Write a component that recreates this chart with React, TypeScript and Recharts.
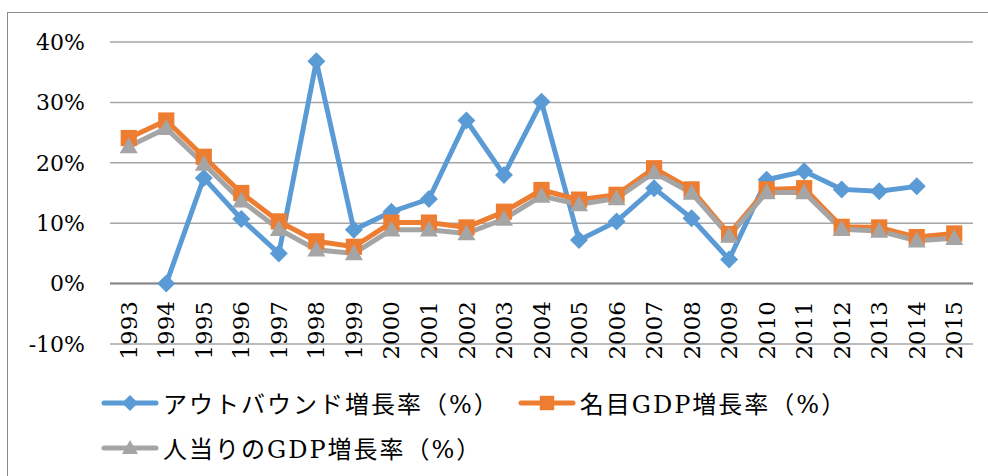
import React from 'react';
import { LineChart, Line, XAxis, YAxis, CartesianGrid, Legend, ReferenceLine } from 'recharts';

const years = ['1993', '1994', '1995', '1996', '1997', '1998', '1999', '2000', '2001', '2002', '2003', '2004',
  '2005', '2006', '2007', '2008', '2009', '2010', '2011', '2012', '2013', '2014', '2015'];

const outbound = [null, 0, 17.5, 10.7, 5.0, 36.8, 8.9, 11.9, 14.0, 27.0, 18.0, 30.1,
  7.2, 10.3, 15.8, 10.8, 4.0, 17.2, 18.6, 15.6, 15.3, 16.1, null];

const nominalGdp = [24.1, 27.0, 21.0, 15.0, 10.3, 7.0, 6.1, 10.1, 10.1, 9.3, 11.9, 15.5,
  13.9, 14.7, 19.1, 15.6, 8.2, 15.6, 15.8, 9.4, 9.3, 7.7, 8.3];

const perCapitaGdp = [22.7, 25.7, 19.8, 13.7, 9.0, 5.6, 5.0, 8.9, 8.9, 8.3, 10.7, 14.5,
  13.1, 14.1, 18.4, 15.0, 7.9, 15.1, 15.1, 9.0, 8.7, 7.1, 7.5];

const yTicks = [-10, 0, 10, 20, 30, 40];

const seriesNames = {
  outbound: 'アウトバウンド増長率（%）',
  nominal: '名目GDP増長率（%）',
  perCapita: '人当りのGDP増長率（%）',
};

const data = years.map((y, i) => ({
  year: y,
  outbound: outbound[i],
  nominal: nominalGdp[i],
  perCapita: perCapitaGdp[i],
}));

const FONT = "DejaVu Serif, Noto Sans CJK JP, serif";
const BLUE = '#5B9BD5';
const ORANGE = '#ED7D31';
const GRAY = '#A5A5A5';

const markerShape = (kind: string, cx: number, cy: number, color: string, s: number) => {
  if (kind === 'diamond') {
    return <path d={`M${cx},${cy - s} L${cx + s},${cy} L${cx},${cy + s} L${cx - s},${cy} Z`} fill={color} />;
  }
  if (kind === 'square') {
    return <rect x={cx - s * 0.9} y={cy - s * 0.9} width={s * 1.8} height={s * 1.8} fill={color} />;
  }
  return <path d={`M${cx},${cy - s} L${cx + s},${cy + s * 0.75} L${cx - s},${cy + s * 0.75} Z`} fill={color} />;
};

const makeDot = (kind: string, color: string) => (props: any) => {
  const { cx, cy, index } = props;
  if (cx == null || cy == null || props.value == null) return <g key={`e-${index}`} />;
  return <g key={`d-${kind}-${index}`}>{markerShape(kind, cx, cy, color, 9)}</g>;
};

const YearTick = (props: any) => {
  const { x, payload } = props;
  return (
    <text
      transform={`translate(${x},301) rotate(-90)`}
      textAnchor="end"
      dy="0.35em"
      fontSize={23}
      fontFamily={FONT}
      fill="#000"
    >
      {payload.value}
    </text>
  );
};

const kinds: Record<string, string> = { outbound: 'diamond', nominal: 'square', perCapita: 'triangle' };
const legendOrder = ['outbound', 'nominal', 'perCapita'];

const LegendContent = (props: any) => {
  const items = [...(props.payload || [])].sort(
    (a: any, b: any) => legendOrder.indexOf(a.dataKey) - legendOrder.indexOf(b.dataKey)
  );
  return (
    <div style={{ display: 'flex', flexWrap: 'wrap', width: 800 }}>
      {items.map((p: any) => (
        <div key={p.dataKey} style={{ display: 'flex', alignItems: 'center', height: 45, marginRight: 18 }}>
          <svg width={58} height={24}>
            <line x1={3} y1={12} x2={55} y2={12} stroke={p.color} strokeWidth={5} strokeLinecap="round" />
            {markerShape(kinds[p.dataKey], 29, 12, p.color, 8)}
          </svg>
          <span style={{ fontFamily: FONT, fontSize: 24, letterSpacing: 2, marginLeft: 4, color: '#000' }}>
            {p.value}
          </span>
        </div>
      ))}
    </div>
  );
};

const App = () => {
  return (
    <div style={{ position: 'absolute', left: 0, top: 0, width: 988, height: 476, background: '#fff', overflow: 'hidden' }}>
      <div style={{ position: 'absolute', left: 7, top: 12, width: 1000, height: 500, border: '1.5px solid #898989' }} />
      <LineChart width={988} height={476} data={data} margin={{ top: 42, right: 15, left: 0, bottom: 0 }}>
        <CartesianGrid vertical={false} stroke="#A6A6A6" strokeWidth={1.5} />
        <XAxis
          dataKey="year"
          height={132}
          axisLine={false}
          tickLine={false}
          interval={0}
          padding={{ left: 18.75, right: 18.75 }}
          tick={<YearTick />}
        />
        <YAxis
          width={110}
          domain={[-10, 40]}
          ticks={yTicks}
          axisLine={false}
          tickLine={false}
          tickSize={0}
          tickMargin={25}
          tickFormatter={(v: number) => `${v}%`}
          tick={{ fontSize: 22, fontFamily: FONT, fill: '#000' }}
        />
        <ReferenceLine y={0} stroke="#868686" strokeWidth={2} />
        <Legend
          layout="horizontal"
          verticalAlign="middle"
          align="center"
          itemSorter={null}
          wrapperStyle={{ top: 380, left: 101, width: 800 }}
          content={<LegendContent />}
        />
        <Line
          dataKey="outbound"
          name={seriesNames.outbound}
          stroke={BLUE}
          strokeWidth={5}
          dot={makeDot('diamond', BLUE)}
          activeDot={false}
          isAnimationActive={false}
        />
        <Line
          dataKey="nominal"
          name={seriesNames.nominal}
          stroke={ORANGE}
          strokeWidth={5}
          dot={makeDot('square', ORANGE)}
          activeDot={false}
          isAnimationActive={false}
        />
        <Line
          dataKey="perCapita"
          name={seriesNames.perCapita}
          stroke={GRAY}
          strokeWidth={5}
          dot={makeDot('triangle', GRAY)}
          activeDot={false}
          isAnimationActive={false}
        />
      </LineChart>
    </div>
  );
};

export default App;
